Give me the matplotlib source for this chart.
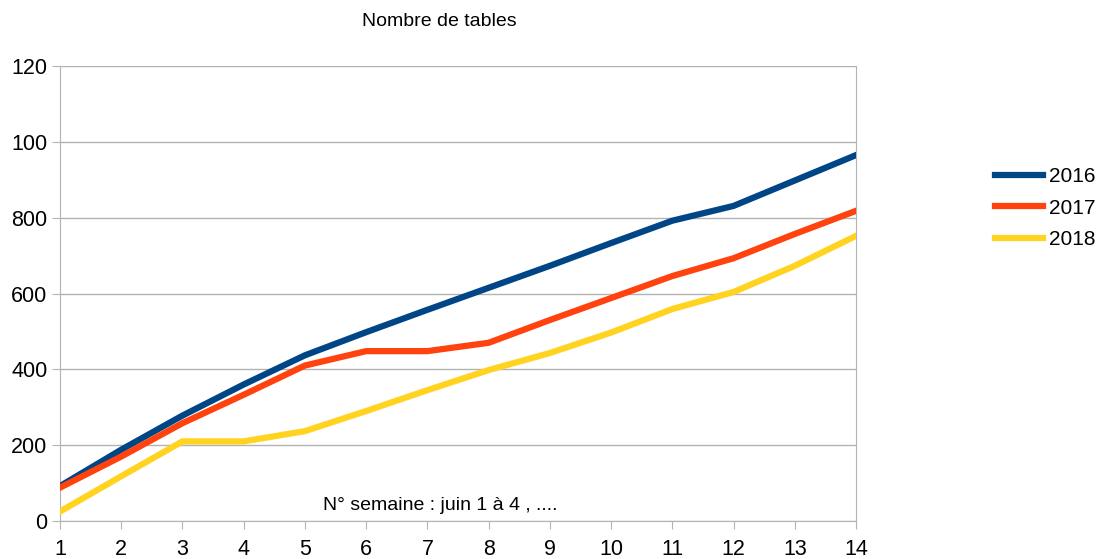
import matplotlib
matplotlib.use("Agg")
import matplotlib.pyplot as plt

weeks = list(range(1, 15))
s2016 = [92, 188, 278, 360, 437, 498, 557, 615, 673, 733, 792, 831, 898, 965]
s2017 = [88, 170, 258, 333, 410, 448, 448, 470, 530, 588, 646, 693, 757, 818]
s2018 = [25, 118, 210, 210, 237, 290, 345, 398, 443, 497, 559, 604, 673, 752]
series_names = ["2016", "2017", "2018"]
colors = ["#004586", "#ff420e", "#ffd320"]
ytick_vals = [0, 200, 400, 600, 800, 1000, 1200]
ytick_labels = ["0", "200", "400", "600", "800", "100", "120"]

plt.rcParams['font.family'] = ['Liberation Sans', 'DejaVu Sans']

W, H = 1099, 559
fig = plt.figure(figsize=(W / 100, H / 100), dpi=100)
ax = fig.add_axes([60 / W, 1 - 521 / H, (856 - 60) / W, (521 - 66) / H])

lines = []
for name, data, c in zip(series_names, [s2016, s2017, s2018], colors):
    ln, = ax.plot(weeks, data, color=c, lw=4.5, solid_joinstyle='round', label=name, zorder=3)
    lines.append(ln)

ax.set_xlim(1, 14)
ax.set_ylim(0, 1200)
ax.set_xticks(weeks)
ax.set_xticklabels([str(w) for w in weeks], fontsize=15.5)
ax.set_yticks(ytick_vals)
ax.set_yticklabels(ytick_labels, fontsize=15.5)
ax.yaxis.grid(True, color="#b3b3b3", lw=1)
ax.set_axisbelow(True)
for s in ["left", "right", "bottom"]:
    ax.spines[s].set_color("#b3b3b3")
ax.spines["top"].set_visible(False)
ax.tick_params(axis='x', length=6, color="#b3b3b3", pad=7)
ax.tick_params(axis='y', length=6, color="#b3b3b3", pad=3)

fig.text(439 / W, 1 - 22 / H, "Nombre de tables", ha='center', va='center', fontsize=14)
fig.text(440 / W, 1 - 505 / H, "N° semaine : juin 1 à 4 , ....", ha='center', va='center', fontsize=14)

fig.legend(handles=lines, labels=series_names, loc='center left',
           bbox_to_anchor=(995 / W, 1 - 208 / H), frameon=False, fontsize=15,
           borderpad=0, borderaxespad=0,
           handlelength=2.3, handletextpad=0.3, labelspacing=0.6)

fig.savefig("out.png", dpi=100)
